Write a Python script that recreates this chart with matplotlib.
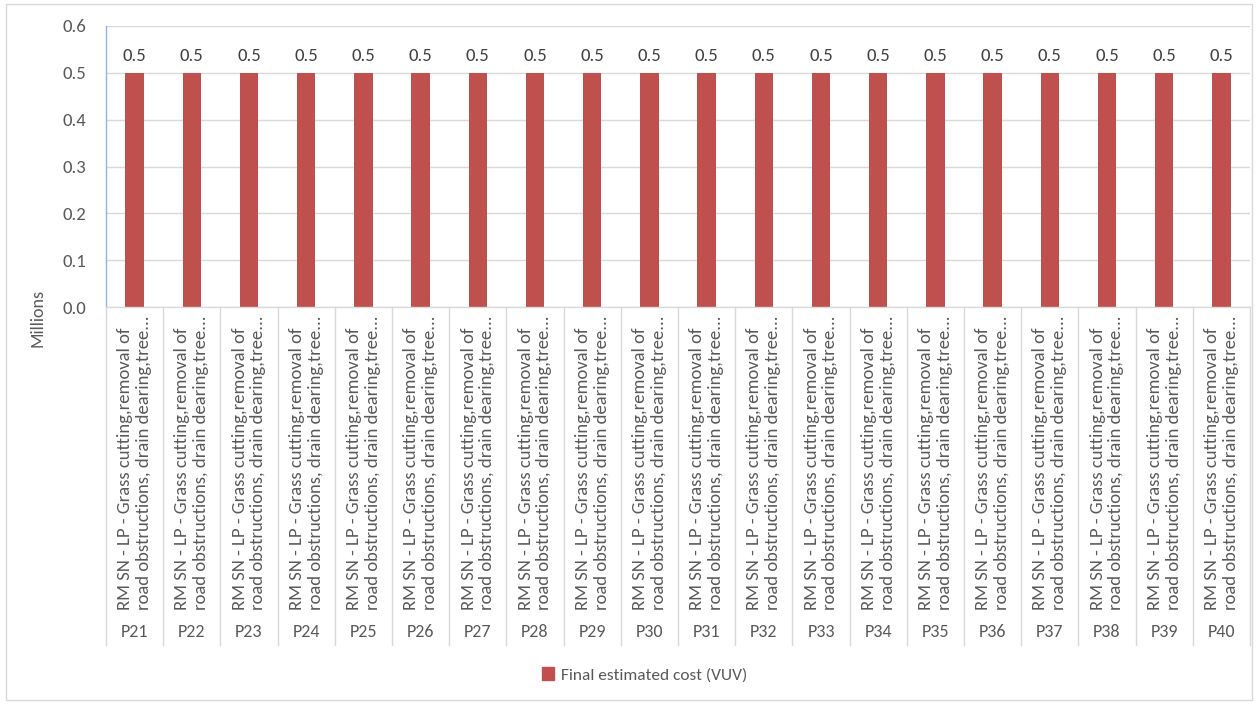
import matplotlib
matplotlib.use("Agg")
import matplotlib.pyplot as plt
from matplotlib import font_manager
from matplotlib.patches import Rectangle
from matplotlib.lines import Line2D

codes = ["P21", "P22", "P23", "P24", "P25", "P26", "P27", "P28", "P29", "P30",
         "P31", "P32", "P33", "P34", "P35", "P36", "P37", "P38", "P39", "P40"]
descriptions = ["RM SN - LP - Grass cutting,removal of\nroad obstructions, drain dearing,tree..."] * 20
values = [0.5] * 20
value_labels = ["0.5"] * 20
yticks = [0.0, 0.1, 0.2, 0.3, 0.4, 0.5, 0.6]
series_name = "Final estimated cost (VUV)"

names = {f.name for f in font_manager.fontManager.ttflist}
font = "Lato"
for cand in ["Carlito", "Liberation Sans Narrow", "Lato"]:
    if cand in names:
        font = cand
        break
plt.rcParams['font.family'] = [font, 'DejaVu Sans']

W, H = 1258, 704
fig = plt.figure(figsize=(W / 100, H / 100), dpi=100)
L, R, T, B = 106, 1250, 26, 307
ax = fig.add_axes([L / W, 1 - B / H, (R - L) / W, (B - T) / H])

bar_color = "#C0504D"
text_gray = "#595959"
grid_gray = "#D9D9D9"

x = list(range(len(codes)))
ax.bar(x, values, width=0.32, color=bar_color, zorder=3)
for xi, v, lab in zip(x, values, value_labels):
    ax.text(xi, v + 0.037, lab, ha="center", va="center", fontsize=13.5, color="#404040")

ax.set_xlim(-0.5, len(codes) - 0.5)
ax.set_ylim(0, 0.6)
ax.set_yticks(yticks)
ax.set_yticklabels([f"{t:.1f}" for t in yticks])
ax.tick_params(axis="y", length=0, pad=14, labelsize=13.5, labelcolor=text_gray)
ax.set_xticks([])
ax.grid(axis="y", color=grid_gray, linewidth=1, zorder=0)
for s in ["top", "right", "bottom"]:
    ax.spines[s].set_visible(False)
ax.spines["left"].set_color("#8EB4E3")
ax.spines["left"].set_linewidth(1)

ah = B - T
trans = ax.get_xaxis_transform()
def fy(py):
    return (B - py) / ah

# category separators
for k in range(len(codes) + 1):
    ax.add_line(Line2D([k - 0.5, k - 0.5], [fy(307), fy(645)], transform=trans,
                       color=grid_gray, linewidth=1, clip_on=False))
# baseline
ax.add_line(Line2D([-0.5, len(codes) - 0.5], [0, 0], transform=trans,
                   color=grid_gray, linewidth=1, clip_on=False, zorder=4))

for xi, d, c in zip(x, descriptions, codes):
    ax.text(xi, fy(610), d, transform=trans, rotation=90, ha="center", va="bottom",
            multialignment="left", fontsize=13.4, color=text_gray, linespacing=1.2)
    ax.text(xi, fy(632), c, transform=trans, ha="center", va="center",
            fontsize=13, color=text_gray)

fig.text(38 / W, 1 - 318 / H, "Millions", rotation=90, ha="center", va="center",
         fontsize=13, color=text_gray)

handle = Rectangle((0, 0), 1, 1, color=bar_color)
fig.legend([handle], [series_name], loc="center", bbox_to_anchor=(645 / W, 1 - 675 / H),
           frameon=False, fontsize=12.5, labelcolor=text_gray, handlelength=0.7,
           handleheight=0.7, handletextpad=0.4)

fig.patches.append(Rectangle((6 / W, 1 - 700 / H), 1246 / W, 696 / H, transform=fig.transFigure,
                             fill=False, edgecolor=grid_gray, linewidth=1))

fig.savefig("out.png", dpi=100, facecolor="white")
